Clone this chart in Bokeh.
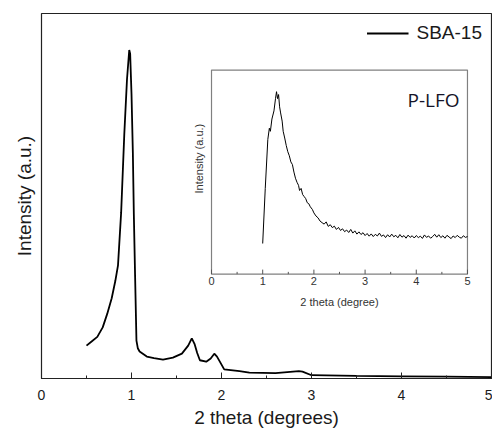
import math
from bokeh.plotting import figure
from bokeh.models import Range1d, Legend, LegendItem, Title, SingleIntervalTicker
from bokeh.embed import file_html
from bokeh.resources import INLINE
from bokeh.core.properties import value

# ---- main pattern: SBA-15 ----
main_x = [0.50, 0.55, 0.62, 0.68, 0.73, 0.78, 0.82, 0.85, 0.885, 0.92, 0.95, 0.975,
          0.985, 1.00, 1.015, 1.026, 1.04, 1.055, 1.07, 1.09, 1.17, 1.25, 1.35, 1.46,
          1.56, 1.63, 1.67, 1.70, 1.73, 1.76, 1.83, 1.88, 1.92, 1.95, 1.98, 2.03, 2.20,
          2.31, 2.60, 2.86, 2.90, 3.00, 3.50, 4.00, 4.50, 5.00]
main_y = [9.0, 10.0, 11.4, 14.0, 17.7, 22.0, 26.7, 31.0, 45.5, 67.0, 82.0, 90.0,
          89.0, 78.0, 62.0, 45.0, 28.0, 10.4, 8.3, 7.4, 6.0, 5.6, 5.2, 5.7,
          6.8, 9.0, 11.0, 9.5, 7.0, 5.0, 4.6, 5.5, 6.8, 6.0, 4.7, 2.5, 2.0,
          1.6, 1.5, 2.0, 1.9, 0.9, 0.7, 0.6, 0.5, 0.4]

# ---- inset pattern: P-LFO ----
inset_x = [1.00, 1.05, 1.10, 1.13, 1.15, 1.18, 1.22, 1.25, 1.27, 1.29, 1.31, 1.33,
           1.35, 1.38, 1.40, 1.43, 1.46, 1.49, 1.52, 1.55, 1.58, 1.61, 1.64, 1.67,
           1.70, 1.72, 1.75, 1.78, 1.81, 1.84, 1.87, 1.90, 1.93, 1.97, 2.00, 2.04,
           2.08, 2.12, 2.16, 2.20, 2.24, 2.28, 2.32, 2.36, 2.40, 2.44, 2.48, 2.52,
           2.56, 2.60, 2.64, 2.68, 2.72, 2.76, 2.80, 2.84, 2.88, 2.92, 2.96, 3.00,
           3.04, 3.08, 3.12, 3.16, 3.20, 3.24, 3.28, 3.32, 3.36, 3.40, 3.44, 3.48,
           3.52, 3.56, 3.60, 3.64, 3.68, 3.72, 3.76, 3.80, 3.84, 3.88, 3.92, 3.96,
           4.00, 4.04, 4.08, 4.12, 4.16, 4.20, 4.24, 4.28, 4.32, 4.36, 4.40, 4.44,
           4.48, 4.52, 4.56, 4.60, 4.64, 4.68, 4.72, 4.76, 4.80, 4.84, 4.88, 4.92,
           4.96, 5.00]
inset_y = [15.0, 42.0, 66.0, 71.5, 70.0, 76.0, 80.0, 86.0, 89.4, 86.0, 88.0, 82.0,
           79.0, 75.0, 70.0, 66.7, 63.0, 60.0, 58.0, 55.0, 53.7, 50.0, 47.0, 45.0,
           43.5, 41.0, 42.0, 39.0, 38.0, 37.0, 35.0, 34.5, 33.0, 31.7, 30.0, 28.5,
           27.6, 26.0, 25.2, 24.5, 25.6, 23.4, 24.2, 22.8, 23.5, 21.9, 22.9, 21.4,
           22.2, 20.8, 21.6, 20.4, 21.9, 20.1, 21.2, 19.6, 20.7, 19.4, 20.3, 18.9,
           19.9, 18.6, 19.7, 18.4, 19.5, 18.7, 20.1, 18.5, 19.2, 17.9, 19.3, 18.2,
           19.6, 18.3, 19.0, 17.8, 19.4, 18.1, 18.9, 17.6, 19.1, 18.0, 18.8, 17.7,
           18.9, 17.9, 18.6, 17.5, 19.2, 18.0, 18.7, 17.6, 18.4, 19.5, 18.1, 19.3,
           17.9, 18.8, 17.6, 19.0, 18.2, 17.4, 18.7, 17.9, 19.0, 18.1, 17.6, 18.8,
           18.0, 18.4]

inset_major = [0, 1, 2, 3, 4, 5]
inset_minor = [0.5, 1.5, 2.5, 3.5, 4.5]
inset_tick_labels = ["0", "1", "2", "3", "4", "5"]

FONT = "Liberation Sans"
TXT = "#1a1a1a"

p = figure(width=492, height=430, output_backend="svg", toolbar_location=None,
           x_range=Range1d(0, 5), y_range=Range1d(0, 100), y_axis_location=None,
           min_border_left=41, min_border_right=1, min_border_top=13, min_border_bottom=50)
p.grid.visible = False
p.outline_line_color = "#222222"
p.outline_line_width = 1.2
p.background_fill_color = "white"

ax = p.xaxis[0]
ax.ticker = SingleIntervalTicker(interval=1, num_minor_ticks=2)
ax.major_tick_in = 6
ax.major_tick_out = 0
ax.minor_tick_in = 3
ax.minor_tick_out = 0
ax.axis_line_color = "#222222"
ax.axis_line_width = 1.2
ax.major_tick_line_color = "#222222"
ax.minor_tick_line_color = "#222222"
ax.major_label_standoff = 11
ax.major_label_text_font = FONT
ax.major_label_text_font_size = "14px"
ax.major_label_text_color = TXT
ax.axis_label = "2 theta (degrees)"
ax.axis_label_standoff = 4
ax.axis_label_text_font = FONT
ax.axis_label_text_font_size = "19px"
ax.axis_label_text_font_style = "normal"
ax.axis_label_text_color = TXT

r = p.line(main_x, main_y, line_color="black", line_width=1.8)

legend = Legend(items=[LegendItem(label="SBA-15", renderers=[r])], location="top_right",
                border_line_color=None, background_fill_alpha=0, padding=0, margin=9,
                glyph_width=42, label_standoff=8, label_text_font=FONT,
                label_text_font_size="19px", label_text_color=TXT)
p.add_layout(legend)

p.add_layout(Title(text="Intensity (a.u.)", align="center", offset=20, standoff=14,
                   text_font=FONT, text_font_size="19px", text_font_style="normal",
                   text_color=TXT), "left")

# ---- inset ----
sub = p.subplot(x_source=Range1d(0, 5), y_source=Range1d(0, 100),
                x_target=Range1d(1.889, 4.733), y_target=Range1d(28.6, 84.5))
sub.quad(left=[0], right=[5], bottom=[0], top=[100], fill_color="white",
         line_color="#808080", line_width=1.2)
sub.line(inset_x, inset_y, line_color="black", line_width=1)
sub.segment(x0=inset_major, y0=[0] * 6, x1=inset_major, y1=[2.2] * 6,
            line_color="#555555", line_width=1)
sub.segment(x0=inset_minor, y0=[0] * 5, x1=inset_minor, y1=[1.1] * 5,
            line_color="#555555", line_width=1)
sub.text(x=inset_major, y=[0] * 6, text=inset_tick_labels, y_offset=3,
         text_align="center", text_baseline="top", text_font=value(FONT),
         text_font_size="11px", text_color="#333333")
sub.text(x=[2.5], y=[0], text=["2 theta (degree)"], y_offset=22,
         text_align="center", text_baseline="top", text_font=value(FONT),
         text_font_size="11px", text_color="#333333")
sub.text(x=[0], y=[56.6], text=["Intensity (a.u.)"], x_offset=-13, angle=math.pi / 2,
         text_align="center", text_baseline="middle", text_font=value(FONT),
         text_font_size="11px", text_color="#333333")
sub.text(x=[3.83], y=[85.4], text=["P-LFO"], text_align="left",
         text_baseline="alphabetic", text_font=value("Open Sans"),
         text_font_size="19px", text_color="#141428")

open("out.html", "w").write(file_html(p, INLINE))
